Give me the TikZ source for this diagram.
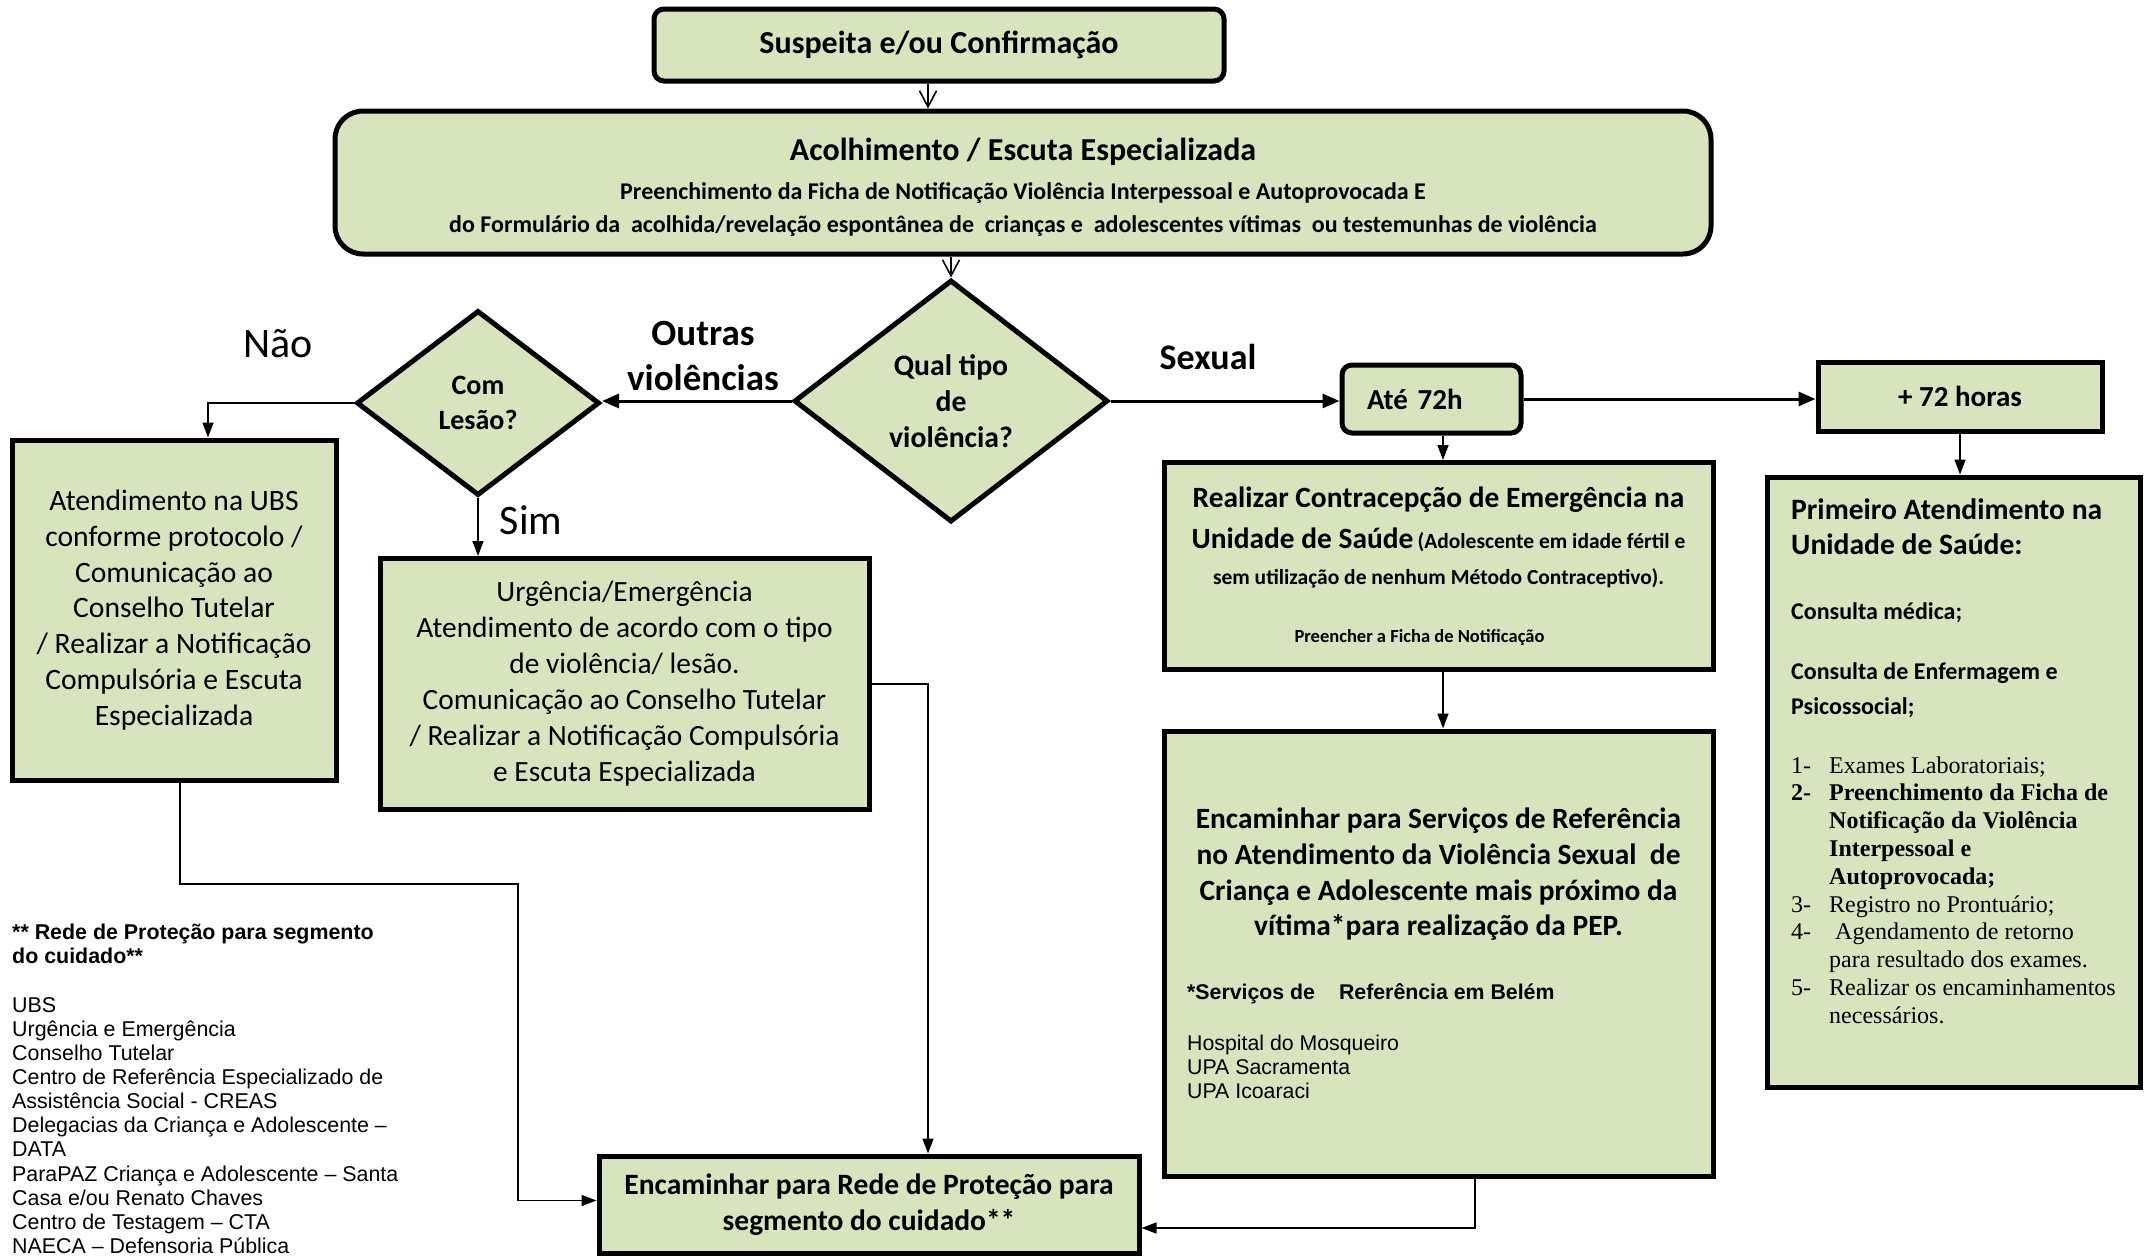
\documentclass[tikz,border=0pt]{standalone}
\usepackage{fontspec}
\setmainfont{Carlito}
\newfontfamily\arialf{Liberation Sans}
\newfontfamily\tnrf{Liberation Serif}
\usetikzlibrary{arrows.meta,shapes.geometric,calc}
\definecolor{boxg}{HTML}{D7E4BD}
\newcommand\fs[2]{\fontsize{#1}{#2}\selectfont}
\tikzset{
  box/.style={draw=black, line width=5pt, fill=boxg, inner sep=0pt, align=center},
  dia/.style={diamond, draw=black, line width=5pt, fill=boxg, inner sep=0pt, align=center},
  conn/.style={line width=1.6pt, -{Triangle[length=15pt,width=11pt]}},
  tconn/.style={line width=3pt, -{Triangle[length=17pt,width=14pt]}},
  oconn/.style={line width=1.6pt, -{Straight Barb[length=16pt,width=17pt]}},
  lbl/.style={inner sep=0pt, align=center},
  lbll/.style={inner sep=0pt, align=left, anchor=west}
}
\begin{document}
\begin{tikzpicture}[x=1pt,y=-1pt]
\fill[white] (0,0) rectangle (2150,1256);
\useasboundingbox (0,0) rectangle (2150,1256);

% boxes
\node[box, rounded corners=10pt, minimum width=570pt, minimum height=72pt, font=\fs{32}{36}\bfseries] (S) at (939,45) {Suspeita e/ou Confirmação};

\node[box, rounded corners=28pt, minimum width=1376pt, minimum height=143pt] (A) at (1023,182.5) {};
\node[lbl, font=\fs{24}{33}\bfseries] (at) at (1023,187)
 {{\fs{32}{33}Acolhimento / Escuta Especializada}\\[6pt]
  Preenchimento da Ficha de Notificação Violência Interpessoal e Autoprovocada E\\
  do Formulário da\ \ acolhida/revelação espontânea de\ \ crianças e\ \ adolescentes vítimas\ \ ou testemunhas de violência};

\node[dia, minimum width=314pt, minimum height=242pt, aspect=1.3, font=\fs{29.7}{36}\bfseries] (Q) at (951,401) {Qual tipo\\de\\violência?};

\node[dia, minimum width=243pt, minimum height=185pt, aspect=1.3, font=\fs{28}{35}\bfseries] (C) at (478,403) {Com\\Lesão?};

\node[box, minimum width=324pt, minimum height=340pt, font=\fs{29.6}{35.7}] (U) at (174,610)
 {Atendimento na UBS\\conforme protocolo /\\Comunicação ao\\Conselho Tutelar\\/ Realizar a Notificação\\Compulsória e Escuta\\Especializada};

\node[box, minimum width=489pt, minimum height=251pt, font=\fs{29.4}{36}] (E) at (624.5,684)
 {Urgência/Emergência\\Atendimento de acordo com o tipo\\de violência/ lesão.\\Comunicação ao Conselho Tutelar\\/ Realizar a Notificação Compulsória\\e Escuta Especializada};

\node[box, minimum width=540pt, minimum height=97pt, font=\fs{29.5}{36}\bfseries] (R) at (869,1204.5)
 {Encaminhar para Rede de Proteção para\\segmento do cuidado**};

\node[box, rounded corners=10pt, minimum width=179pt, minimum height=68pt, font=\fs{29}{34}\bfseries,
      text width=129pt, align=left, inner xsep=25pt] (T) at (1431.5,399) {Até 72h};

\node[box, minimum width=284pt, minimum height=69pt, font=\fs{29}{34}\bfseries] (P) at (1960,396.5) {+ 72 horas};

\node[box, minimum width=549pt, minimum height=207pt, font=\fs{18.5}{30}\bfseries] (RC) at (1438.5,566)
 {{\fs{29.4}{30}Realizar Contracepção de Emergência na}\\[11pt]
  {\fs{29.4}{30}Unidade de Saúde} {\fs{21.5}{30}(Adolescente em idade fértil e}\\[6pt]
  {\fs{21.5}{30}sem utilização de nenhum Método Contraceptivo).}\\[28pt]
  Preencher a Ficha de Notificação\hspace*{38pt}};

\node[box, minimum width=549pt, minimum height=445pt] (ENC) at (1438.5,953.5) {};
\node[lbl, font=\fs{29.4}{35.7}\bfseries] (enc1) at (1438.5,874.5)
 {Encaminhar para Serviços de Referência\\no Atendimento da Violência Sexual\ \ de\\Criança e Adolescente mais próximo da\\vítima*para realização da PEP.};
\node[lbll, font=\arialf\fs{21.3}{24}\bfseries] (enc2) at (1187,994) {*Serviços de\hspace{24pt}Referência em Belém};
\node[lbll, font=\arialf\fs{21.3}{24}] (enc3) at (1187,1067) {Hospital do Mosqueiro\\UPA Sacramenta\\UPA Icoaraci};

\node[box, minimum width=373pt, minimum height=610pt] (P2) at (1953.5,782) {};
\node[lbll, font=\fs{29.6}{35}\bfseries] (p2a) at (1791,526.5) {Primeiro Atendimento na\\Unidade de Saúde:};
\node[lbll, font=\fs{24}{35}\bfseries] (p2b) at (1791,613) {Consulta médica;};
\node[lbll, font=\fs{24}{35}\bfseries] (p2c) at (1791,690.5) {Consulta de Enfermagem e\\Psicossocial;};
\node[lbll, font=\tnrf\fs{24}{27.8}] (p2d) at (1791,890)
 {\makebox[38pt][l]{1-}Exames Laboratoriais;\\
  \textbf{\makebox[38pt][l]{2-}Preenchimento da Ficha de}\\
  \hspace*{38pt}\textbf{Notificação da Violência}\\
  \hspace*{38pt}\textbf{Interpessoal e}\\
  \hspace*{38pt}\textbf{Autoprovocada;}\\
  \makebox[38pt][l]{3-}Registro no Prontuário;\\
  \makebox[38pt][l]{4-}\ Agendamento de retorno\\
  \hspace*{38pt}para resultado dos exames.\\
  \makebox[38pt][l]{5-}Realizar os encaminhamentos\\
  \hspace*{38pt}necessários.};

% legend
\node[lbll, font=\arialf\fs{21.4}{24}\bfseries] (lg1) at (12,944) {** Rede de Proteção para segmento\\do cuidado**};
\node[lbll, font=\arialf\fs{21.4}{24.1}] (lg2) at (12,1125.5)
 {UBS\\Urgência e Emergência\\Conselho Tutelar\\Centro de Referência Especializado de\\Assistência Social - CREAS\\Delegacias da Criança e Adolescente –\\DATA\\ParaPAZ Criança e Adolescente – Santa\\Casa e/ou Renato Chaves\\Centro de Testagem – CTA\\NAECA – Defensoria Pública};

% labels
\node[lbl, font=\fs{37}{45}\bfseries] (lout) at (703,355.5) {Outras\\violências};
\node[lbl, font=\fs{36}{40}\bfseries] (lsex) at (1208,357) {Sexual};
\node[lbl, font=\fs{42}{46}] (lnao) at (278,344) {Não};
\node[lbl, font=\fs{42}{46}] (lsim) at (531,520) {Sim};

% connectors
\coordinate (k1) at (518,884);
\draw[oconn] ([xshift=-11pt]S.south) -- ([xshift=-11pt]S.south |- A.north);
\draw[oconn] (A.south -| Q.north) -- (Q.north);
\draw[tconn] (Q.west) -- (Q.west -| C.east);
\draw[conn] (C.west) -| ([xshift=34pt]U.north);
\draw[conn] (C.south) -- (C.south |- E.north);
\draw[conn] (E.east) -| ([xshift=59pt]R.north);
\draw[conn] ([xshift=6pt]U.south) |- (k1) |- ([yshift=4pt]R.west);
\draw[tconn] (Q.east) -- (Q.east -| T.west);
\draw[tconn] (T.east) -- (T.east -| P.west);
\draw[conn] ([xshift=4.5pt]RC.north |- T.south) -- ([xshift=4.5pt]RC.north);
\draw[conn] ([xshift=4.5pt]RC.south) -- ([xshift=4.5pt]ENC.north);
\draw[conn] (P.south) -- (P.south |- P2.north);
\draw[conn] ([xshift=36.5pt]ENC.south) |- ([yshift=-23.5pt]R.east);
\end{tikzpicture}
\end{document}
